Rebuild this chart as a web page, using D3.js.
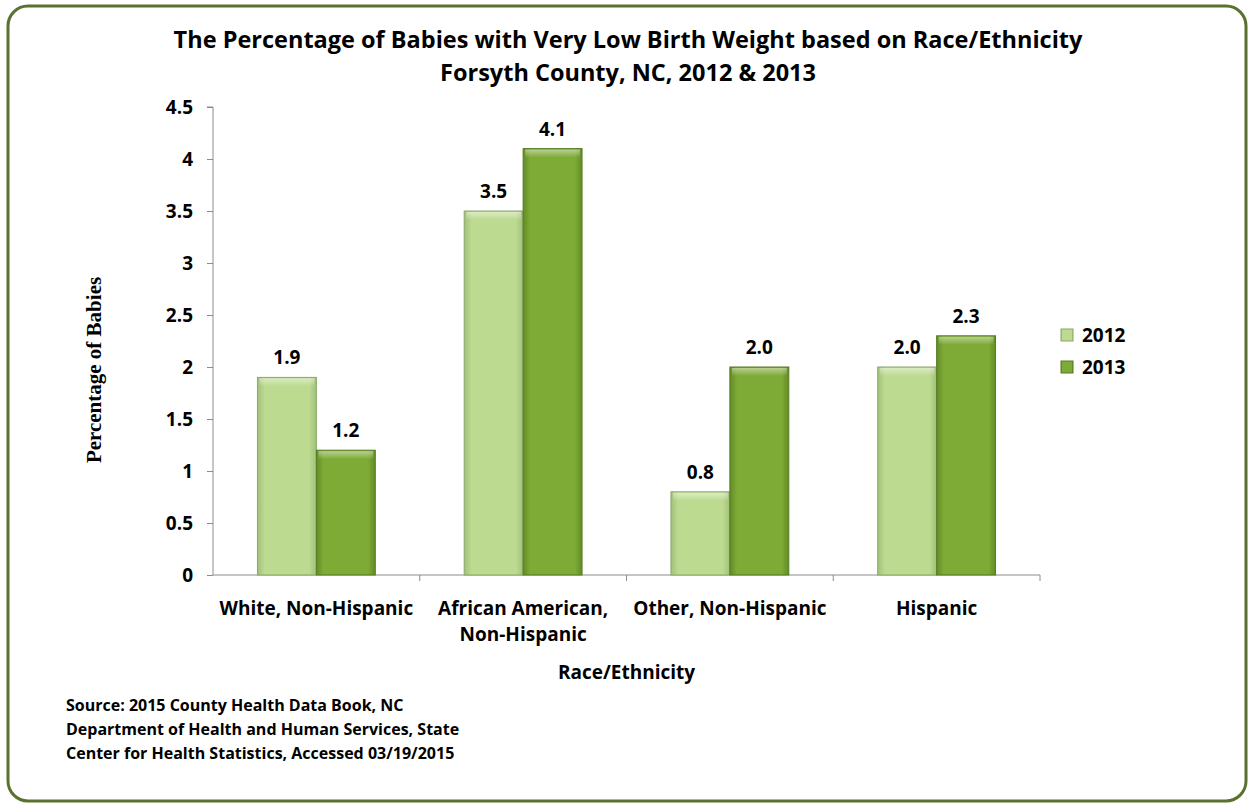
<!DOCTYPE html>
<html>
<head>
<meta charset="utf-8">
<script src="https://cdn.jsdelivr.net/npm/d3@7"></script>
<style>
  html, body { margin: 0; padding: 0; background: #fff; }
  svg { display: block; }
  .bold { font-family: "Open Sans", Lato, sans-serif; font-weight: bold; fill: #000; }
</style>
</head>
<body>
<script>
const categories = [["White, Non-Hispanic"], ["African American,", "Non-Hispanic"], ["Other, Non-Hispanic"], ["Hispanic"]];
const series = ["2012", "2013"];
const values2012 = [1.9, 3.5, 0.8, 2.0];
const values2013 = [1.2, 4.1, 2.0, 2.3];
const yTicks = [0, 0.5, 1, 1.5, 2, 2.5, 3, 3.5, 4, 4.5];
const titleLines = ["The Percentage of Babies with Very Low Birth Weight based on Race/Ethnicity", "Forsyth County, NC, 2012 & 2013"];
const sourceLines = ["Source: 2015 County Health Data Book, NC", "Department of Health and Human Services, State", "Center for Health Statistics, Accessed 03/19/2015"];

const W = 1248, H = 804;
const plot = {left: 213, right: 1040, top: 107, bottom: 575};

const svg = d3.select("body").append("svg").attr("width", W).attr("height", H);
const defs = svg.append("defs");

// bar fills: darker edges, lighter middle
const fills = [
    {id: "g2012", edge: "#a0c07a", mid: "#bcda90", stroke: "#8aa868"},
    {id: "g2013", edge: "#628c25", mid: "#7eaa36", stroke: "#557c22"}
];
fills.forEach(f => {
    const g = defs.append("linearGradient").attr("id", f.id).attr("x1", 0).attr("x2", 1).attr("y1", 0).attr("y2", 0);
    g.append("stop").attr("offset", "0%").attr("stop-color", f.edge);
    g.append("stop").attr("offset", "12%").attr("stop-color", f.mid);
    g.append("stop").attr("offset", "88%").attr("stop-color", f.mid);
    g.append("stop").attr("offset", "100%").attr("stop-color", f.edge);
});
const hl = defs.append("linearGradient").attr("id", "hl").attr("x1", 0).attr("x2", 0).attr("y1", 0).attr("y2", 1);
hl.append("stop").attr("offset", "0%").attr("stop-color", "#fff").attr("stop-opacity", 0.45);
hl.append("stop").attr("offset", "100%").attr("stop-color", "#fff").attr("stop-opacity", 0);

// frame
svg.append("rect")
    .attr("x", 8).attr("y", 6).attr("width", 1238).attr("height", 795)
    .attr("rx", 20).attr("ry", 20)
    .attr("fill", "#fff").attr("stroke", "#5b7130").attr("stroke-width", 3);

// title
svg.append("text").attr("class", "bold")
    .attr("x", 628).attr("y", 48).attr("text-anchor", "middle").style("font-size", "23.5px")
    .selectAll("tspan").data(titleLines).enter().append("tspan")
    .attr("x", 628).attr("dy", (d, i) => i === 0 ? 0 : 33).text(d => d);

const y = d3.scaleLinear().domain([0, 4.5]).range([plot.bottom, plot.top]);
const x0 = d3.scaleBand().domain(d3.range(categories.length)).range([plot.left, plot.right]).paddingInner(0.43).paddingOuter(0.215);
const x1 = d3.scaleBand().domain(series).range([0, x0.bandwidth()]);

// y axis
const yAxis = d3.axisLeft(y).tickValues(yTicks).tickSize(6).tickPadding(14).tickFormat(d => d3.format("")(d));
const gy = svg.append("g").attr("transform", `translate(${plot.left},0)`).call(yAxis);
gy.select(".domain").attr("stroke", "#8c8c8c").attr("d", `M-6,${plot.top}H0V${plot.bottom}`);
gy.selectAll(".tick line").attr("stroke", "#8c8c8c");
gy.selectAll(".tick text").attr("class", "bold").style("font-size", "19px").attr("dy", "0.35em");

// x axis with ticks at category boundaries
const bounds = d3.range(categories.length + 1).map(i => plot.left + i * (plot.right - plot.left) / categories.length);
svg.append("line").attr("x1", plot.left).attr("x2", plot.right).attr("y1", plot.bottom).attr("y2", plot.bottom).attr("stroke", "#8c8c8c");
svg.selectAll(".xtick").data(bounds.slice(1)).enter().append("line")
    .attr("x1", d => d).attr("x2", d => d).attr("y1", plot.bottom).attr("y2", plot.bottom + 6).attr("stroke", "#8c8c8c");

// bars
const rows = categories.map((c, i) => ({i, vals: [values2012[i], values2013[i]]}));
const grp = svg.selectAll(".grp").data(rows).enter().append("g").attr("transform", d => `translate(${x0(d.i)},0)`);
const bars = grp.selectAll(".bar").data(d => d.vals.map((v, k) => ({k, v}))).enter();
bars.append("rect")
    .attr("x", d => x1(series[d.k])).attr("y", d => y(d.v))
    .attr("width", x1.bandwidth()).attr("height", d => y(0) - y(d.v))
    .attr("fill", d => `url(#${fills[d.k].id})`).attr("stroke", d => fills[d.k].stroke).attr("stroke-width", 1);
bars.append("rect")
    .attr("x", d => x1(series[d.k]) + 2).attr("y", d => y(d.v) + 1)
    .attr("width", x1.bandwidth() - 4).attr("height", 8)
    .attr("fill", "url(#hl)");
bars.append("text").attr("class", "bold")
    .attr("x", d => x1(series[d.k]) + x1.bandwidth() / 2).attr("y", d => y(d.v) - 13)
    .attr("text-anchor", "middle").style("font-size", "19px")
    .text(d => d.v.toFixed(1));

// category labels
svg.selectAll(".cat").data(categories).enter().append("text").attr("class", "bold")
    .attr("text-anchor", "middle").style("font-size", "19px")
    .attr("y", 615)
    .each(function (d, i) {
        const cx = (bounds[i] + bounds[i + 1]) / 2;
        d3.select(this).selectAll("tspan").data(d).enter().append("tspan")
            .attr("x", cx).attr("dy", (t, j) => j === 0 ? 0 : 26).text(t => t);
    });

// axis titles
svg.append("text").attr("class", "bold").attr("x", (plot.left + plot.right) / 2).attr("y", 679)
    .attr("text-anchor", "middle").style("font-size", "19px").text("Race/Ethnicity");
svg.append("text")
    .attr("transform", `translate(101,370) rotate(-90)`)
    .attr("text-anchor", "middle")
    .style("font-family", "'Liberation Serif', 'Times New Roman', serif").style("font-weight", "bold").style("font-size", "21px")
    .text("Percentage of Babies");

// legend
const leg = svg.selectAll(".leg").data(series).enter().append("g")
    .attr("transform", (d, i) => `translate(1061,${329 + i * 32})`);
leg.append("rect").attr("width", 12).attr("height", 12)
    .attr("fill", (d, i) => `url(#${fills[i].id})`).attr("stroke", (d, i) => fills[i].stroke);
leg.append("text").attr("class", "bold").attr("x", 21).attr("y", 13).style("font-size", "19px").text(d => d);

// source
svg.append("text").attr("class", "bold").style("font-size", "16px")
    .attr("y", 711)
    .selectAll("tspan").data(sourceLines).enter().append("tspan")
    .attr("x", 66).attr("dy", (d, i) => i === 0 ? 0 : 24).text(d => d);
</script>
</body>
</html>
